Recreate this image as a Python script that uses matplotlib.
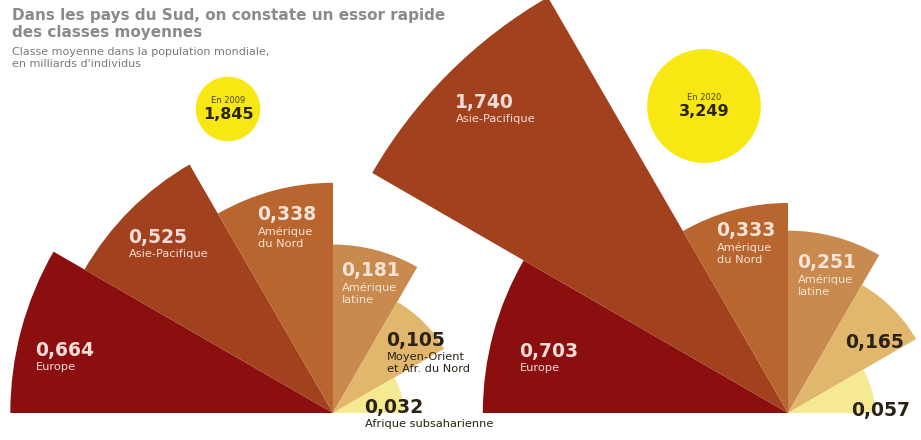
import numpy as np
import matplotlib.pyplot as plt
from matplotlib.patches import Wedge, Circle

# données (milliards d'individus)
regions = ["Europe", "Asie-Pacifique", "Amérique\ndu Nord", "Amérique\nlatine",
           "Moyen-Orient\net Afr. du Nord", "Afrique subsaharienne"]
values_2009 = [0.664, 0.525, 0.338, 0.181, 0.105, 0.032]
values_2020 = [0.703, 1.740, 0.333, 0.251, 0.165, 0.057]
totals = [1.845, 3.249]
years = ["2009", "2020"]

colors = ["#8c0f10", "#a2411e", "#b8652f", "#c98a4f", "#e0b76c", "#f5ea92"]
text_colors = ["#f6dcd8", "#f6dcd8", "#f6e4d6", "#f6e4d6", "#2a2214", "#2a2214"]

H = 440  # hauteur en pixels, on travaille en coordonnées pixel


def fr(v):
    return f"{v:.3f}".replace(".", ",")


fig = plt.figure(figsize=(9.21, 4.40), dpi=100)
ax = fig.add_axes([0, 0, 1, 1])
ax.set_xlim(0, 921)
ax.set_ylim(0, H)
ax.set_aspect("equal")
ax.axis("off")

# deux éventails: centre (px) et échelle (rayon = k * sqrt(valeur))
fans = [
    {"values": values_2009, "center": (333, H - 413), "k": 396},
    {"values": values_2020, "center": (788, H - 413), "k": 364},
]

for fan in fans:
    cx, cy = fan["center"]
    for i, v in enumerate(fan["values"]):
        r = fan["k"] * np.sqrt(v)
        t2 = 180 - 30 * i
        t1 = t2 - 30
        ax.add_patch(Wedge((cx, cy), r, t1, t2, facecolor=colors[i],
                           edgecolor="none", zorder=2))

# positions des étiquettes (px, depuis le haut)
label_pos_2009 = [(35, 350), (128, 237), (257, 214), (341, 270), (386, 340), (364, 407)]
label_pos_2020 = [(519, 351), (455, 102), (716, 230), (797, 262), (845, 342), (851, 410)]
show_names_2020 = [True, True, True, True, False, False]

font = ["DejaVu Sans"]


def put_labels(values, positions, show_names):
    for i, (v, (x, y)) in enumerate(zip(values, positions)):
        ax.text(x, H - y, fr(v), fontsize=13.5, fontweight="bold", color=text_colors[i],
                ha="left", va="center", family=font, zorder=5)
        if show_names[i]:
            ax.text(x + 1, H - y - 12, regions[i], fontsize=8.2, color=text_colors[i],
                    ha="left", va="top", family=font, linespacing=1.25, zorder=5)


put_labels(values_2009, label_pos_2009, [True] * 6)
put_labels(values_2020, label_pos_2020, show_names_2020)

# bulles des totaux (rayon proportionnel au total)
bubble_centers = [(228, H - 109), (704, H - 106)]
for (bx, by), tot, yr in zip(bubble_centers, totals, years):
    r = 17.5 * tot
    ax.add_patch(Circle((bx, by), r, facecolor="#f7e713", edgecolor="none", zorder=3))
    ax.text(bx, by + 9, f"En {yr}", fontsize=6, color="#4a4410", ha="center",
            va="center", family=font, zorder=5)
    ax.text(bx, by - 5, fr(tot), fontsize=11.5, fontweight="bold", color="#2a2410",
            ha="center", va="center", family=font, zorder=5)

# titre et sous-titre
fig.text(12 / 921, 1 - 8 / H, "Dans les pays du Sud, on constate un essor rapide\ndes classes moyennes",
         fontsize=11, fontweight="bold", color="#8a8a8a", ha="left", va="top",
         family=font, linespacing=1.2)
fig.text(12 / 921, 1 - 47 / H, "Classe moyenne dans la population mondiale,\nen milliards d'individus",
         fontsize=8, color="#7a7a7a", ha="left", va="top", family=font, linespacing=1.2)

fig.savefig("out.png", dpi=100, facecolor="white")
